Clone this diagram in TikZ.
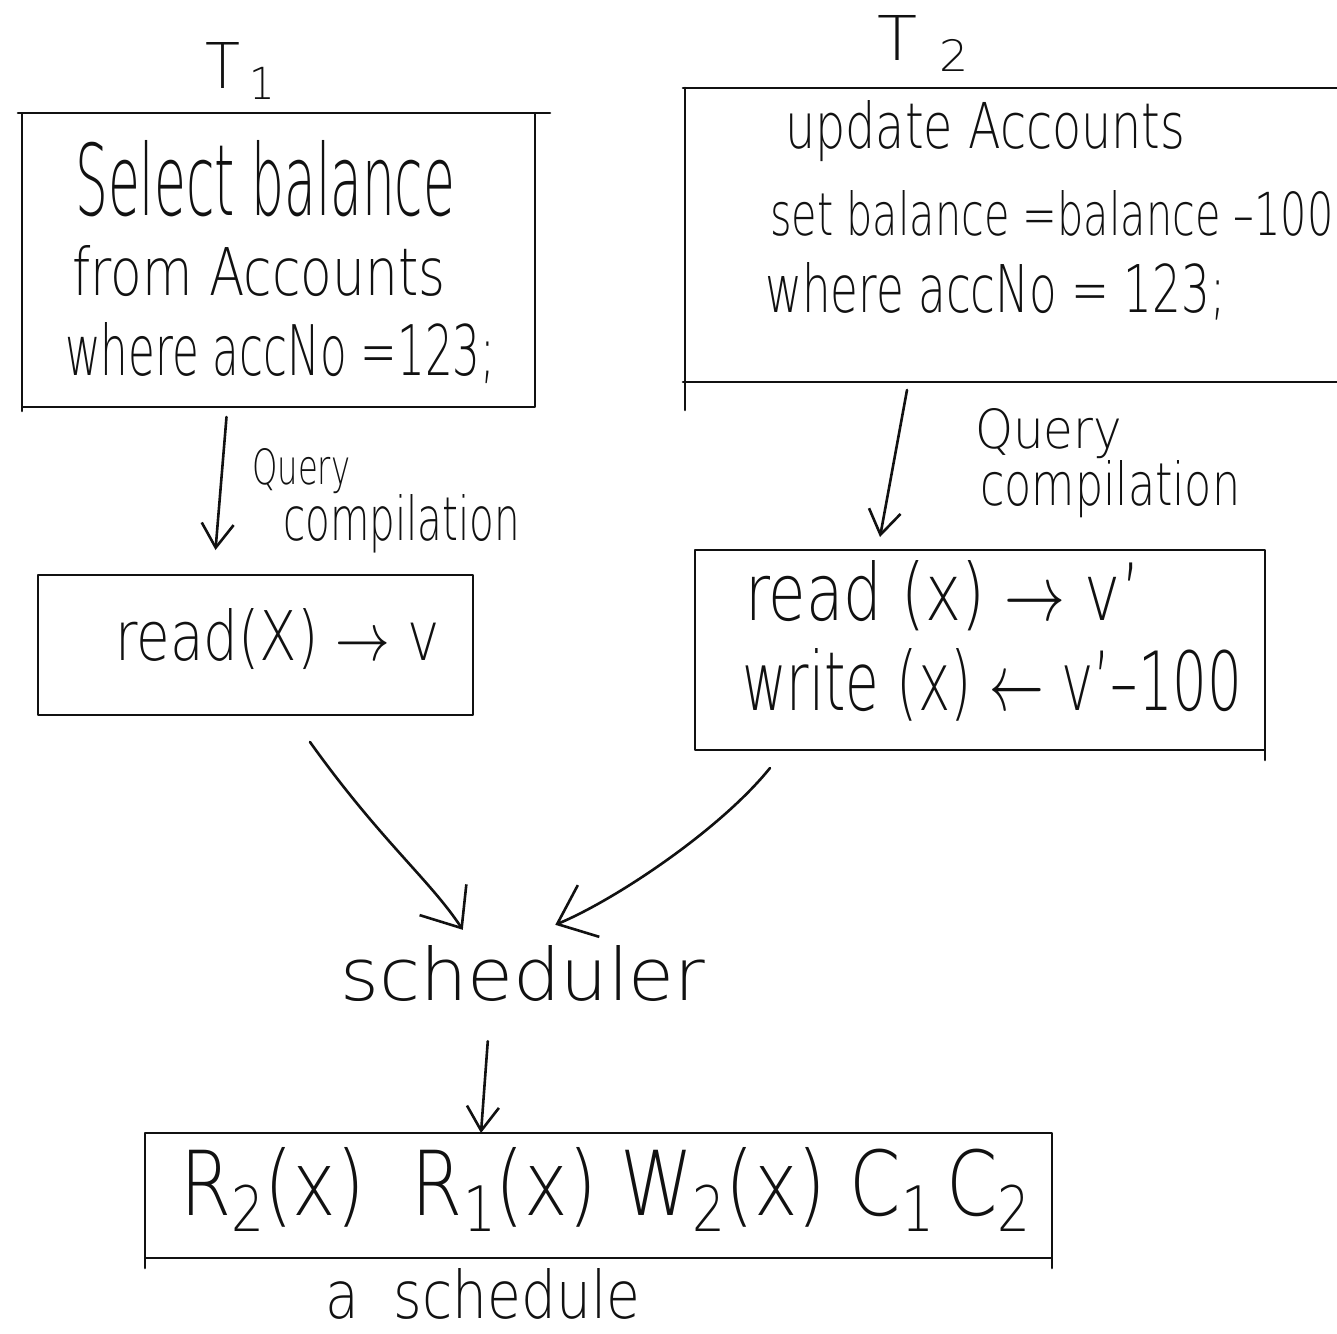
\documentclass[tikz,border=0pt]{standalone}
\usepackage{fontspec}
\usepackage{graphicx}
\setmainfont{DejaVu Sans ExtraLight}
\usetikzlibrary{arrows.meta,calc}
% text line fitted to a given width and height above the baseline
\newcommand\fitline[3]{\resizebox{#1pt}{#2pt}{#3}}
\newcommand\lowsub[1]{\raisebox{-0.18em}{\scriptsize #1}}
\definecolor{ink}{HTML}{111111}
\tikzset{
  ink/.style={draw=ink, line width=2.6pt, line cap=round, line join=round},
  box/.style={ink, rectangle, inner sep=0pt, outer sep=0pt},
  txt/.style={inner sep=0pt, anchor=base west, text=ink},
  headS/.style={-{Straight Barb[length=24pt,width=32pt]}},
  headL/.style={-{Straight Barb[length=34pt,width=56pt]}},
}
\begin{document}
\begin{tikzpicture}[x=1pt,y=-1pt]
\useasboundingbox (0,0) rectangle (1337,1333);
\fill[white] (0,0) rectangle (1337,1333);
\clip (0,0) rectangle (1337,1333);

% transaction labels
\node[txt] (t1) at (205,88) {\fitline{70}{46}{T\,\lowsub{1}}};
\node[txt] (t2) at (877,60) {\fitline{91}{45}{T\,\,\lowsub{2}}};

% T1 query box
\node[box, minimum width=513pt, minimum height=294pt] (q1) at (278.5,260) {};
\draw[ink] (q1.north west) -- ++(-4,0);
\draw[ink] (q1.north east) -- ++(15,0);
\draw[ink] (q1.south west) -- ++(0,4);
\node[txt] (q1a) at (75,215) {\fitline{380}{75}{Select balance}};
\node[txt] (q1b) at (72,295) {\fitline{373}{50}{from Accounts}};
\node[txt] (q1c) at (65,375) {\fitline{430}{53}{where accNo =123;}};

% T2 query box, open on the right
\coordinate (q2nw) at (685,88);
\coordinate (q2sw) at (685,382);
\draw[ink] ($(q2nw)+(-2,0)$) -- ++(660,0);
\draw[ink] ($(q2sw)+(-2,0)$) -- ++(660,0);
\draw[ink] (q2nw) -- ($(q2sw)+(0,28)$);
\node[txt] (q2a) at (785,148) {\fitline{400}{48}{update Accounts}};
\node[txt] (q2b) at (770,235) {\fitline{563}{45}{set balance =balance \textendash100}};
\node[txt] (q2c) at (765,312) {\fitline{460}{50}{where accNo = 123;}};

% compiled operations
\node[box, minimum width=435pt, minimum height=140pt] (r1) at (255.5,645) {};
\node[txt] (r1a) at (115,660) {\fitline{325}{52}{read(X) $\rightarrow$ v}};
\node[box, minimum width=570pt, minimum height=200pt] (r2) at (980,650) {};
\draw[ink] (r2.south east) -- ++(0,10);
\node[txt] (r2a) at (745,620) {\fitline{395}{60}{read (x) $\rightarrow$ v\textquoteright}};
\node[txt] (r2b) at (742,710) {\fitline{500}{62}{write (x) $\leftarrow$ v\textquoteright\textendash100}};

% query compilation labels
\node[txt] (c1a) at (252,484) {\fitline{98}{36}{Query}};
\node[txt] (c1b) at (283,540) {\fitline{237}{46}{compilation}};
\node[txt] (c2a) at (975,448) {\fitline{147}{40}{Query}};
\node[txt] (c2b) at (980,505) {\fitline{260}{45}{compilation}};

% scheduler and resulting schedule
\node[txt] (sch) at (340,1000) {\fitline{365}{55}{scheduler}};
\node[box, minimum width=907pt, minimum height=125pt] (s1) at (598.5,1195.5) {};
\draw[ink] (s1.south west) -- ++(0,10);
\draw[ink] (s1.south east) -- ++(0,10);
\node[txt] (s1a) at (180,1215) {\fitline{850}{68}{R\lowsub{2}(x)\ \ R\lowsub{1}(x) W\lowsub{2}(x) C\lowsub{1}\,C\lowsub{2}}};
\node[txt] (s1b) at (325,1318) {\fitline{315}{50}{a\ \ schedule}};

% connectors
\draw[ink, headS] ($(q1.south)+(-52,10)$) -- ($(r1.north)+(-40,-25)$);
\draw[ink, headS] ($(q2sw)+(222,8)$) -- ($(r2.north)+(-100,-13)$);
\draw[ink, headL] ($(r1.south)+(54.5,27)$) .. controls (380,840) and (430,880) .. ($(sch.north)+(-60,-15)$);
\draw[ink, headL] ($(r2.south)+(-210,18)$) .. controls (720,830) and (615,900) .. ($(sch.north)+(32.5,-20)$);
\draw[ink, headS] ($(sch.south)+(-35,40)$) -- ($(s1.north)+(-117.5,0)$);
\end{tikzpicture}
\end{document}
